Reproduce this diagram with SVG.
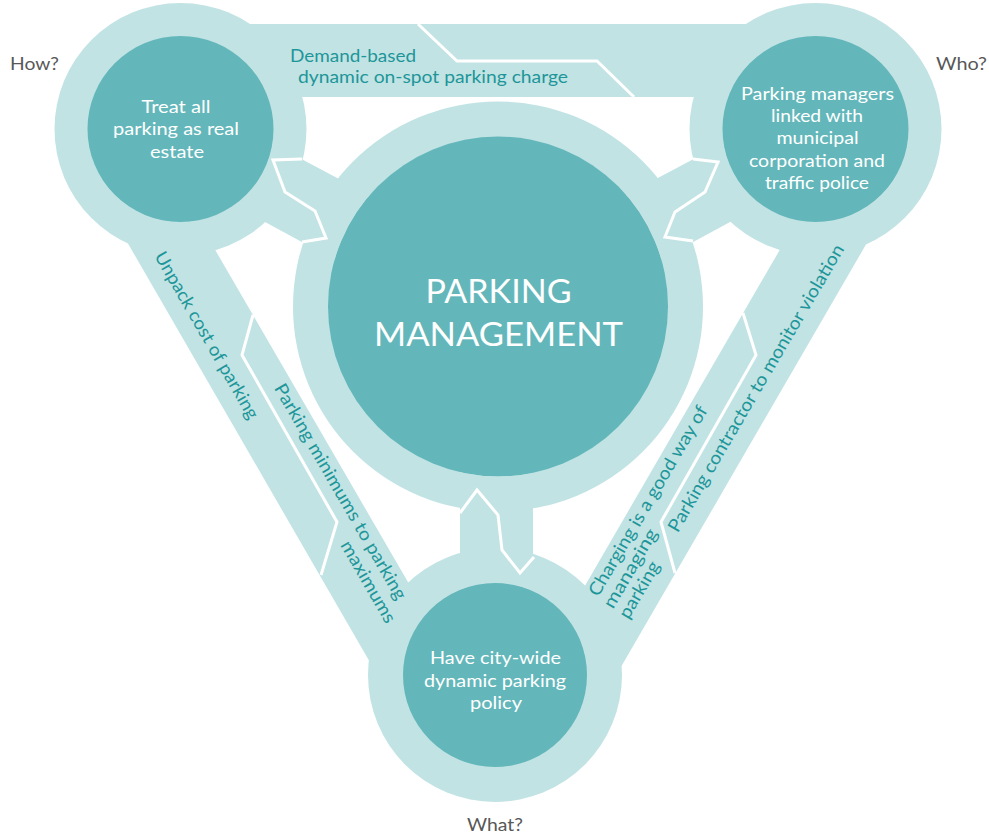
<svg xmlns="http://www.w3.org/2000/svg" width="989" height="836" viewBox="0 0 989 836">
<style>
.ring{fill:#c2e3e4}
.core{fill:#63b7ba}
.band{fill:#c2e3e4}
.div{fill:none;stroke:#fff;stroke-width:3;stroke-linejoin:miter}
text{font-family:Lato,"Liberation Sans",sans-serif}
.nt{fill:#fff;font-size:18px;text-anchor:middle}
.tt{fill:#fff;font-size:33px;text-anchor:middle;font-weight:400}
.lb{fill:#1d9699;font-size:18px}
.q{fill:#585858;font-size:17px}
</style>
<defs>
<mask id="cores" maskUnits="userSpaceOnUse" x="0" y="0" width="989" height="836">
<rect x="0" y="0" width="989" height="836" fill="#fff"/>
<circle cx="180.5" cy="129" r="93.5" fill="#000"/>
<circle cx="815.5" cy="129" r="93.5" fill="#000"/>
<circle cx="495" cy="675" r="92.5" fill="#000"/>
<circle cx="498" cy="306.5" r="170" fill="#000"/>
</mask>
</defs>
<rect width="989" height="836" fill="#fff"/>

<g id="node-center">
<circle class="ring" cx="498" cy="306.5" r="205"/>
<circle class="core" cx="498" cy="306.5" r="170"/>
<text class="tt" x="498.5" y="303" textLength="146" lengthAdjust="spacingAndGlyphs">PARKING</text>
<text class="tt" x="498.5" y="345.5" textLength="249" lengthAdjust="spacingAndGlyphs">MANAGEMENT</text>
</g>

<g id="node-how">
<circle class="ring" cx="180.5" cy="129" r="126"/>
<circle class="core" cx="180.5" cy="129" r="93"/>
<text class="nt" x="176" y="113" textLength="69" lengthAdjust="spacingAndGlyphs">Treat all</text>
<text class="nt" x="176" y="135" textLength="126" lengthAdjust="spacingAndGlyphs">parking as real</text>
<text class="nt" x="177" y="157.5" textLength="54" lengthAdjust="spacingAndGlyphs">estate</text>
<text class="q" x="10" y="70" textLength="49" lengthAdjust="spacingAndGlyphs">How?</text>
</g>

<g id="node-who">
<circle class="ring" cx="815.5" cy="129" r="126"/>
<circle class="core" cx="815.5" cy="129" r="93"/>
<text class="nt" x="817.5" y="100" textLength="153" lengthAdjust="spacingAndGlyphs">Parking managers</text>
<text class="nt" x="817" y="122" textLength="92" lengthAdjust="spacingAndGlyphs">linked with</text>
<text class="nt" x="817.5" y="144" textLength="82" lengthAdjust="spacingAndGlyphs">municipal</text>
<text class="nt" x="817" y="166.5" textLength="136" lengthAdjust="spacingAndGlyphs">corporation and</text>
<text class="nt" x="817" y="188.5" textLength="104" lengthAdjust="spacingAndGlyphs">traffic police</text>
<text class="q" x="936" y="70" textLength="51" lengthAdjust="spacingAndGlyphs">Who?</text>
</g>

<g id="node-what">
<circle class="ring" cx="495" cy="675" r="127"/>
<circle class="core" cx="495" cy="675" r="92"/>
<text class="nt" x="495.5" y="664" textLength="131" lengthAdjust="spacingAndGlyphs">Have city-wide</text>
<text class="nt" x="495" y="686.5" textLength="142" lengthAdjust="spacingAndGlyphs">dynamic parking</text>
<text class="nt" x="496" y="708.5" textLength="52" lengthAdjust="spacingAndGlyphs">policy</text>
<text class="q" x="467" y="831" textLength="56" lengthAdjust="spacingAndGlyphs">What?</text>
</g>

<g id="connectors">
<g mask="url(#cores)">
<polygon class="band" points="240,24 760,24 760,97 240,97"/>
<polygon class="band" points="85.5,170 391.8,700 430,620 186.2,200"/>
<polygon class="band" points="909.2,170 601.8,700 565.1,620 808.7,200"/>
<polygon class="band" points="258,136 373,197 335,260 241,209"/>
<polygon class="band" points="737,136 622,197 660,260 754,209"/>
<polygon class="band" points="460,470 533,470 533,600 460,600"/>
</g>
<polyline class="div" points="418,24 457,61 597,61 634,97"/>
<polyline class="div" points="253,315 242,355 337,522 321,575"/>
<polyline class="div" points="743,313 756,355 661,522 675,573"/>
<polyline class="div" points="302,159 273,160 285,192 315,211 326,238 302,242"/>
<polyline class="div" points="693,159 718,162 705,192 675,212 665,237 693,241"/>
<polyline class="div" points="460,513 477,490 498,515 502,550 520,573 534,557"/>
<text class="lb" x="290" y="62" textLength="126" lengthAdjust="spacingAndGlyphs">Demand-based</text>
<text class="lb" x="298" y="83" textLength="270" lengthAdjust="spacingAndGlyphs">dynamic on-spot parking charge</text>
<text class="lb" transform="translate(154,256) rotate(60)" textLength="190" lengthAdjust="spacingAndGlyphs">Unpack cost of parking</text>
<text class="lb" transform="translate(273.7,388.1) rotate(60)" textLength="246" lengthAdjust="spacingAndGlyphs">Parking minimums to parking</text>
<text class="lb" transform="translate(340.1,545) rotate(60)" textLength="92" lengthAdjust="spacingAndGlyphs">maximums</text>
<text class="lb" transform="translate(677.7,533.6) rotate(-59.6)" textLength="330" lengthAdjust="spacingAndGlyphs">Parking contractor to monitor violation</text>
<text class="lb" transform="translate(598.3,597.5) rotate(-59.6)" textLength="217" lengthAdjust="spacingAndGlyphs">Charging is a good way of</text>
<text class="lb" transform="translate(613.1,609.7) rotate(-59.6)" textLength="89" lengthAdjust="spacingAndGlyphs">managing</text>
<text class="lb" transform="translate(628.6,620) rotate(-59.6)" textLength="63" lengthAdjust="spacingAndGlyphs">parking</text>
</g>
</svg>
